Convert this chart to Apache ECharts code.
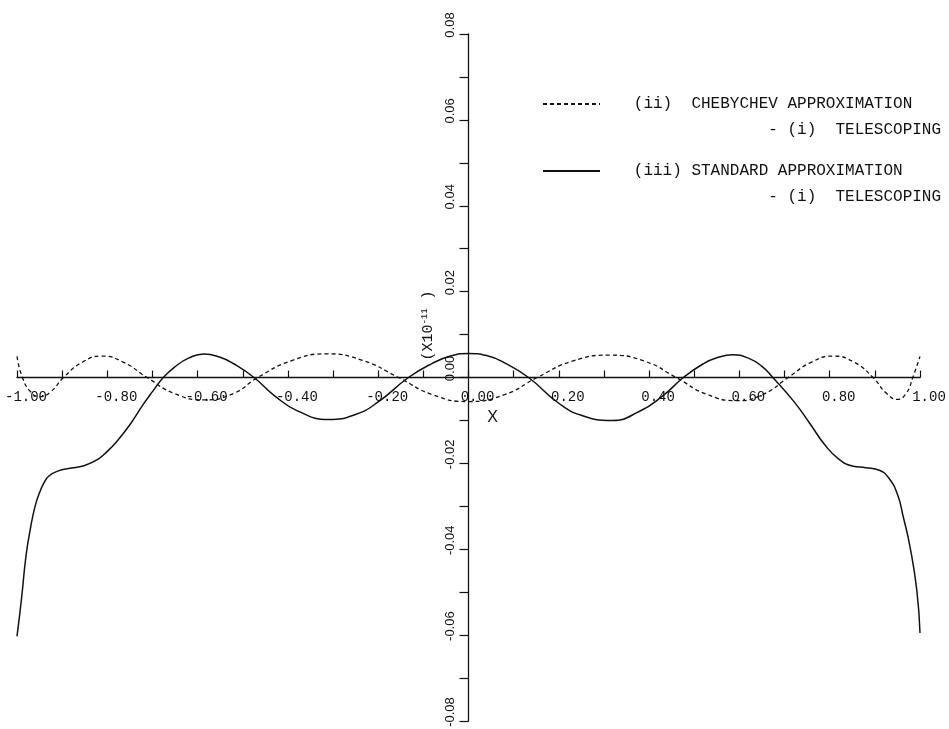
<!DOCTYPE html>
<html>
<head>
<meta charset="utf-8">
<title>Chebychev vs standard approximation</title>
<script src="https://cdn.jsdelivr.net/npm/echarts@6/dist/echarts.min.js"></script>
<style>
  html, body { margin: 0; padding: 0; background: #fff; }
  #chart { width: 949px; height: 729px; }
</style>
</head>
<body>
<div id="chart"></div>
<script>
// curve (ii) chebychev - (i) telescoping
const chebX = [-1.0, -0.988, -0.97, -0.95, -0.925, -0.897, -0.855, -0.812, -0.765, -0.712,
  -0.65, -0.585, -0.52, -0.467, -0.39, -0.315, -0.235, -0.155, -0.08, 0.0,
  0.08, 0.152, 0.23, 0.312, 0.39, 0.460, 0.525, 0.595, 0.655, 0.708,
  0.76, 0.808, 0.855, 0.896, 0.925, 0.950, 0.970, 0.984, 1.0]
const chebY = [0.0049, 0.0, -0.0033, -0.0045, -0.0033, 0.0, 0.0036, 0.0050, 0.0036, 0.0,
  -0.0038, -0.0052, -0.0037, 0.0, 0.0040, 0.0055, 0.0040, 0.0, -0.0040, -0.0056,
  -0.0040, 0.0, 0.0038, 0.0052, 0.0038, 0.0, -0.0038, -0.0054, -0.0038, 0.0,
  0.0036, 0.0050, 0.0035, 0.0, -0.0036, -0.0051, -0.0036, 0.0, 0.0049]

// curve (iii) standard - (i) telescoping
const stdX = [-1.0, -0.99, -0.98, -0.97, -0.96, -0.95, -0.94, -0.93, -0.91, -0.88,
  -0.85, -0.82, -0.80, -0.78, -0.75, -0.72, -0.70, -0.676, -0.65, -0.62,
  -0.586, -0.55, -0.52, -0.475, -0.43, -0.38, -0.31, -0.25, -0.20, -0.133,
  -0.08, -0.04, 0.0, 0.04, 0.08, 0.133, 0.20, 0.25, 0.317, 0.38,
  0.43, 0.476, 0.52, 0.55, 0.586, 0.62, 0.65, 0.674, 0.72, 0.756,
  0.79, 0.82, 0.85, 0.88, 0.91, 0.93, 0.95, 0.963, 0.978, 0.993, 1.0]
const stdY = [-0.0603, -0.0515, -0.0415, -0.0350, -0.0300, -0.0268, -0.0245, -0.0230, -0.0218, -0.0211,
  -0.0205, -0.0190, -0.0172, -0.0150, -0.0110, -0.0062, -0.0033, 0.0, 0.0025, 0.0045,
  0.0055, 0.0047, 0.0032, 0.0, -0.0042, -0.0077, -0.0098, -0.0086, -0.0057, 0.0,
  0.0033, 0.0050, 0.0056, 0.0051, 0.0034, 0.0, -0.0060, -0.0088, -0.0100, -0.0078,
  -0.0043, 0.0, 0.0032, 0.0046, 0.0053, 0.0045, 0.0026, 0.0, -0.0055, -0.0107,
  -0.0158, -0.0190, -0.0206, -0.0210, -0.0216, -0.0233, -0.0272, -0.0325, -0.0395, -0.0496, -0.0595]

const seriesNames = ['CHEBYCHEV', 'STANDARD']
const legendText = {
  CHEBYCHEV: ['   (ii)  CHEBYCHEV APPROXIMATION', '                 - (i)  TELESCOPING'],
  STANDARD: ['   (iii) STANDARD APPROXIMATION', '                 - (i)  TELESCOPING']
}

const pairs = (xs, ys) => xs.map((x, i) => [x, ys[i]])
const mono = 'Liberation Mono'

// grid box; the axes cross in the middle, so they are pulled in with a negative offset
const gridLeft = 17, gridRight = 29, gridTop = 34, gridBottom = 8
const plotW = 949 - gridLeft - gridRight
const plotH = 729 - gridTop - gridBottom

const chart = echarts.init(document.getElementById('chart'))
chart.setOption({
  animation: false,
  backgroundColor: '#fff',
  grid: {
    left: gridLeft, right: gridRight, top: gridTop, bottom: gridBottom,
    containLabel: false, outerBoundsMode: 'none'
  },
  legend: {
    orient: 'vertical',
    left: 537,
    top: 60,
    itemWidth: 57,
    itemHeight: 10,
    itemGap: -11,
    selectedMode: false,
    data: seriesNames,
    itemStyle: { opacity: 0 },
    formatter: name => '\n' + legendText[name].join('\n'),
    textStyle: { fontFamily: mono, fontSize: 16, lineHeight: 26, color: '#111' }
  },
  xAxis: {
    type: 'value',
    min: -1,
    max: 1,
    interval: 0.1,
    offset: -plotH / 2,
    name: 'X',
    nameLocation: 'middle',
    nameGap: 26,
    nameTextStyle: { fontFamily: 'Liberation Sans', fontSize: 16, color: '#111', padding: [0, 0, 0, 48] },
    axisLine: { onZero: false, lineStyle: { color: '#111', width: 1.3 } },
    axisTick: { inside: true, length: 7, lineStyle: { color: '#111', width: 1.2 } },
    axisLabel: {
      margin: 13,
      fontFamily: mono,
      fontSize: 14,
      color: '#111',
      padding: [0, 0, 0, 18],
      formatter: v => Math.round(v * 10) % 2 ? '' : (Math.round(v * 100) / 100).toFixed(2)
    },
    splitLine: { show: false }
  },
  yAxis: {
    type: 'value',
    min: -0.08,
    max: 0.08,
    interval: 0.01,
    offset: -plotW / 2,
    name: '{a|(X10}{s|-11}{a| )}',
    nameLocation: 'middle',
    nameGap: 25,
    nameTextStyle: {
      padding: [0, 0, 0, 104],
      rich: {
        a: { fontFamily: mono, fontSize: 15, color: '#111' },
        s: { fontFamily: mono, fontSize: 9, color: '#111', verticalAlign: 'top' }
      }
    },
    axisLine: { onZero: false, lineStyle: { color: '#111', width: 1.3 } },
    axisTick: { length: 9, lineStyle: { color: '#111', width: 1.2 } },
    axisLabel: {
      rotate: 90,
      margin: 12,
      align: 'center',
      verticalAlign: 'bottom',
      padding: [0, 0, 0, 18],
      fontFamily: 'Liberation Sans',
      fontSize: 13,
      color: '#111',
      formatter: v => Math.round(v * 100) % 2 ? '' : (Math.round(v * 100) / 100).toFixed(2)
    },
    splitLine: { show: false }
  },
  series: [
    {
      name: seriesNames[0],
      type: 'line',
      symbol: 'none',
      smooth: true,
      data: pairs(chebX, chebY),
      lineStyle: { color: '#111', width: 1.3, type: [4, 3] },
      itemStyle: { color: '#111' }
    },
    {
      name: seriesNames[1],
      type: 'line',
      symbol: 'none',
      smooth: true,
      data: pairs(stdX, stdY),
      lineStyle: { color: '#111', width: 1.5 },
      itemStyle: { color: '#111' }
    }
  ]
})
</script>
</body>
</html>
